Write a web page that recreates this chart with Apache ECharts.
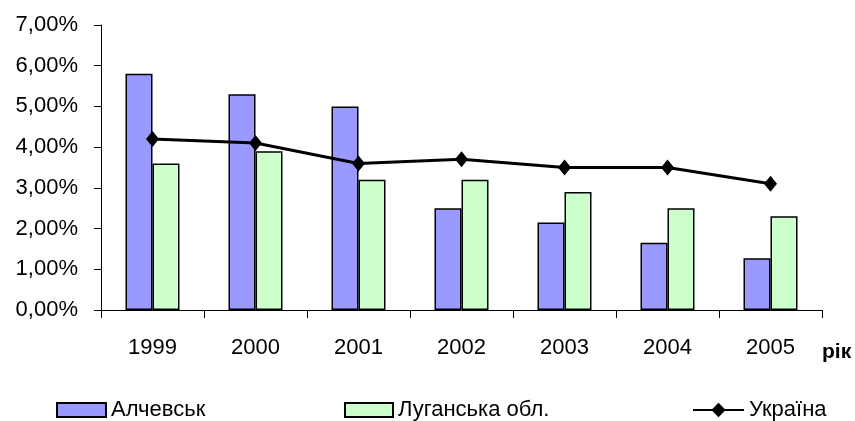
<!DOCTYPE html>
<html>
<head>
<meta charset="utf-8">
<script src="https://cdn.jsdelivr.net/npm/echarts@6/dist/echarts.min.js"></script>
<style>
  html, body { margin: 0; padding: 0; background: #fff; }
  #chart { width: 855px; height: 421px; }
</style>
</head>
<body>
<div id="chart"></div>
<script>
// роки та значення (%)
var years = ['1999', '2000', '2001', '2002', '2003', '2004', '2005'];
var alchevsk = [5.8, 5.3, 5.0, 2.5, 2.15, 1.65, 1.27];
var luhansk = [3.6, 3.9, 3.2, 3.2, 2.9, 2.5, 2.3];
var ukraine = [4.2, 4.1, 3.6, 3.7, 3.5, 3.5, 3.1];

var font = '"Liberation Sans", Arial, sans-serif';

var myChart = echarts.init(document.getElementById('chart'));

var legendText = { fontFamily: font, fontSize: 22, color: '#000' };

var option = {
  animation: false,
  grid: {
    left: 101,
    right: 33,
    top: 25,
    bottom: 111
  },
  legend: [
    {
      data: [{ name: 'Алчевськ', icon: 'rect' }],
      left: 51,
      top: 394,
      itemWidth: 49,
      itemHeight: 14,
      textStyle: legendText
    },
    {
      data: [{ name: 'Луганська обл.', icon: 'rect' }],
      left: 339,
      top: 394,
      itemWidth: 48,
      itemHeight: 14,
      textStyle: legendText
    },
    {
      data: ['Україна'],
      left: 687,
      top: 394,
      itemWidth: 51,
      itemHeight: 18,
      textStyle: legendText
    }
  ],
  graphic: [
    {
      type: 'text',
      left: 822,
      top: 342,
      style: {
        text: 'рік',
        fontFamily: font,
        fontSize: 21,
        fontWeight: 'bold',
        fill: '#000'
      }
    }
  ],
  xAxis: {
    type: 'category',
    data: years,
    axisLine: { lineStyle: { color: '#000', width: 1 } },
    axisTick: { show: true, length: 8, lineStyle: { color: '#000' } },
    axisLabel: {
      margin: 27,
      fontFamily: font,
      fontSize: 22,
      color: '#000'
    }
  },
  yAxis: {
    type: 'value',
    min: 0,
    max: 7,
    interval: 1,
    axisLine: { show: true, lineStyle: { color: '#000', width: 1 } },
    axisTick: { show: true, length: 7, lineStyle: { color: '#000' } },
    splitLine: { show: false },
    axisLabel: {
      margin: 23,
      fontFamily: font,
      fontSize: 22,
      color: '#000',
      formatter: function (value) {
        return value.toFixed(2).replace('.', ',') + '%';
      }
    }
  },
  series: [
    {
      type: 'bar',
      name: 'Алчевськ',
      data: alchevsk,
      barWidth: 27,
      barGap: '0%',
      itemStyle: { color: '#9999ff', borderColor: '#000', borderWidth: 1.5 }
    },
    {
      type: 'bar',
      name: 'Луганська обл.',
      data: luhansk,
      barWidth: 27,
      barGap: '0%',
      itemStyle: { color: '#ccffcc', borderColor: '#000', borderWidth: 1.5 }
    },
    {
      type: 'line',
      name: 'Україна',
      data: ukraine,
      symbol: 'diamond',
      symbolSize: [13, 16],
      lineStyle: { color: '#000', width: 3 },
      itemStyle: { color: '#000' },
      z: 5
    }
  ]
};

myChart.setOption(option);
</script>
</body>
</html>
